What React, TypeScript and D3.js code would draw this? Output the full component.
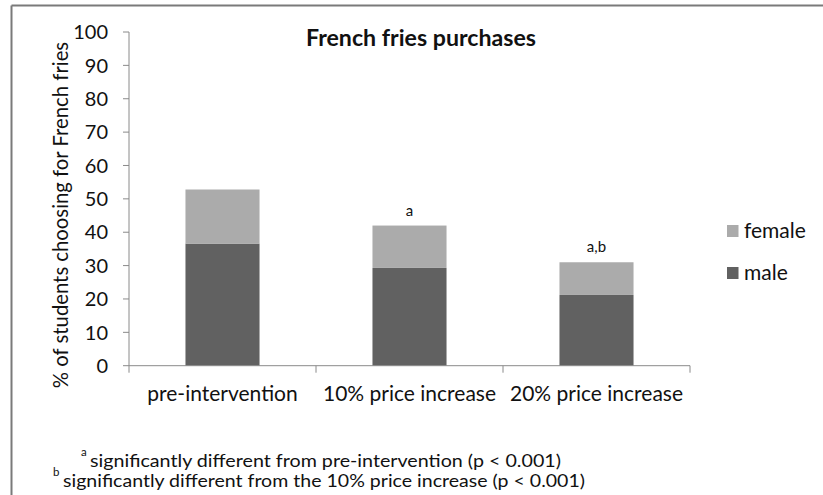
import * as React from "react";
import * as d3 from "d3";

const categories = ["pre-intervention", "10% price increase", "20% price increase"];
const maleValues = [36.6, 29.3, 21.2];
const femaleValues = [16.2, 12.7, 9.8];
const significance = ["", "a", "a,b"];
const yTicks = [0, 10, 20, 30, 40, 50, 60, 70, 80, 90, 100];
const seriesNames = ["male", "female"];
const seriesColors = ["#616161", "#ababab"];
const footnotes = [
  { sup: "a", text: "significantly different from pre-intervention (p < 0.001)" },
  { sup: "b", text: "significantly different from the 10% price increase (p < 0.001)" },
];

const font = "Lato, 'Open Sans', sans-serif";

export default function App() {
  const width = 823;
  const height = 495;
  const left = 129;
  const right = 690;
  const top = 32;
  const bottom = 365.7;

  const rows = categories.map((c, i) => ({ cat: c, male: maleValues[i], female: femaleValues[i] }));
  const stacked = d3.stack<any>().keys(seriesNames)(rows);

  const x = d3.scaleBand().domain(categories).range([left, right]).paddingInner(0.604).paddingOuter(0.302);
  const y = d3.scaleLinear().domain([0, 100]).range([bottom, top]);
  const step = x.step();

  // footnote placement (superscript x, text x, text width)
  const noteX = [
    { sup: 81, text: 90, len: 471 },
    { sup: 53, text: 63, len: 522 },
  ];

  return (
    <svg width={width} height={height} style={{ position: "absolute", left: 0, top: 0 }} fontFamily={font}>
      <rect x={0} y={0} width={width} height={height} fill="#fff" />
      <line x1={11.5} y1={5.5} x2={width} y2={5.5} stroke="#7a7a7a" strokeWidth={2} />
      <line x1={11.5} y1={5.5} x2={11.5} y2={height} stroke="#7a7a7a" strokeWidth={2} />

      <text x={421} y={46} textAnchor="middle" fontWeight="bold" fontSize={22} textLength={230} lengthAdjust="spacingAndGlyphs" fill="#111">
        French fries purchases
      </text>

      {/* bars */}
      {stacked.map((s, si) =>
        s.map((d, i) => (
          <rect
            key={si + "-" + i}
            x={x(categories[i])}
            y={y(d[1])}
            width={x.bandwidth()}
            height={y(d[0]) - y(d[1])}
            fill={seriesColors[si]}
          />
        ))
      )}

      {/* y axis */}
      <line x1={left} y1={top} x2={left} y2={bottom} stroke="#8a8a8a" strokeWidth={1} />
      {yTicks.map((t) => (
        <g key={t}>
          <line x1={left - 6} x2={left} y1={y(t)} y2={y(t)} stroke="#8a8a8a" />
          <text x={108} y={y(t)} dy="0.36em" textAnchor="end" fontSize={20} fill="#111">
            {t}
          </text>
        </g>
      ))}

      {/* x axis */}
      <line x1={left} y1={bottom} x2={right} y2={bottom} stroke="#8a8a8a" />
      {d3.range(categories.length + 1).map((i) => (
        <line key={i} x1={left + i * step} x2={left + i * step} y1={bottom} y2={bottom + 7} stroke="#8a8a8a" />
      ))}
      {categories.map((c) => (
        <text key={c} x={x(c)! + x.bandwidth() / 2} y={401} textAnchor="middle" fontSize={21} fill="#111">
          {c}
        </text>
      ))}

      {/* significance letters */}
      {categories.map((c, i) => (
        <text key={c} x={x(c)! + x.bandwidth() / 2} y={y(maleValues[i] + femaleValues[i]) - 10} textAnchor="middle" fontSize={15} fill="#111">
          {significance[i]}
        </text>
      ))}

      <text transform={`translate(68,215) rotate(-90)`} textAnchor="middle" fontSize={20.3} fill="#111">
        % of students choosing for French fries
      </text>

      {/* legend */}
      {[1, 0].map((si, k) => (
        <g key={si} transform={`translate(727,${225 + k * 42})`}>
          <rect width={11.5} height={12} fill={seriesColors[si]} />
          <text x={17} y={13} fontSize={21} fill="#111">
            {seriesNames[si]}
          </text>
        </g>
      ))}

      {/* footnotes */}
      {footnotes.map((f, i) => (
        <g key={i}>
          <text x={noteX[i].sup} y={456 + i * 20} fontSize={11.5} fill="#111">{f.sup}</text>
          <text x={noteX[i].text} y={467 + i * 20} fontSize={17} textLength={noteX[i].len} lengthAdjust="spacingAndGlyphs" fill="#111">
            {f.text}
          </text>
        </g>
      ))}
    </svg>
  );
}
